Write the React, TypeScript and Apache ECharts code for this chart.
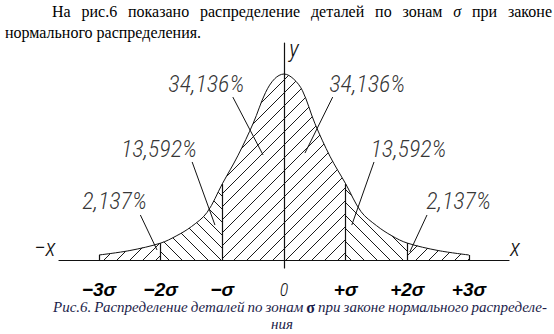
import React, { useEffect, useRef } from "react";
import * as echarts from "echarts";

// ---- data ----
// curve: position in sigma units, relative height (peak = 1)
const SIGMA_X = [-3, -2.5, -2, -1.75, -1.5, -1.25, -1, -0.75, -0.5, -0.3, -0.15, 0, 0.15, 0.3, 0.5, 0.75, 1, 1.25, 1.5, 1.75, 2, 2.5, 3];
const DENSITY = [0.027, 0.051, 0.091, 0.129, 0.18, 0.255, 0.41, 0.56, 0.735, 0.9, 0.975, 1.0, 0.975, 0.91, 0.735, 0.555, 0.41, 0.26, 0.185, 0.13, 0.091, 0.051, 0.027];

const ZONE_BOUNDS = [-3, -2, -1, 1, 2, 3];
const ZONE_HATCH = ["/", "\\", "/", "\\", "/"];
const TICK_VALUES = [-3, -2, -1, 0, 1, 2, 3];
const TICK_LABELS = ["−3σ", "−2σ", "−σ", "0", "+σ", "+2σ", "+3σ"];
const SHARE_LABELS = ["2,137%", "13,592%", "34,136%", "34,136%", "13,592%", "2,137%"];

const PARA_LINE1 = ["На", "рис.6", "показано", "распределение", "деталей", "по", "зонам", "σ", "при", "законе"];
const PARA_LINE2 = "нормального распределения.";
const CAPTION_LINE1 = ["Рис.6.", "Распределение", "деталей", "по", "зонам", "σ", "при", "законе", "нормального", "распределе-"];
const CAPTION_LINE2 = "ния";

// ---- layout (annotation placement, in data coordinates) ----
const ANNOT_LAYOUT = [
  { at: [-2.75, 0.317], from: [-2.33, 0.242], to: [-2.06, 0.054] },
  { at: [-2.03, 0.597], from: [-1.49, 0.527], to: [-1.12, 0.188] },
  { at: [-1.26, 0.946], from: [-0.83, 0.876], to: [-0.34, 0.565] },
  { at: [1.35, 0.946], from: [0.79, 0.876], to: [0.34, 0.575] },
  { at: [2.02, 0.597], from: [1.46, 0.527], to: [1.1, 0.188] },
  { at: [2.83, 0.317], from: [2.32, 0.242], to: [2.04, 0.043] },
];

const THIN_FONT = "'Roboto Condensed', Roboto, 'DejaVu Sans Condensed', sans-serif";
const SERIF = "'Liberation Serif', 'DejaVu Serif', serif";
const INK = "#111";

function hatch(dir: string) {
  const s = 13;
  const d =
    dir === "/"
      ? `M0 ${s} L${s} 0 M-2 2 L2 -2 M${s - 2} ${s + 2} L${s + 2} ${s - 2}`
      : `M0 0 L${s} ${s} M${s - 2} -2 L${s + 2} 2 M-2 ${s - 2} L2 ${s + 2}`;
  const svg = `<svg xmlns="http://www.w3.org/2000/svg" width="${s}" height="${s}"><path d="${d}" stroke="#1a1a1a" stroke-width="1" fill="none"/></svg>`;
  return {
    image: "data:image/svg+xml;charset=utf-8," + encodeURIComponent(svg),
    repeat: "repeat",
    imageWidth: s,
    imageHeight: s,
  };
}

let measureCtx: CanvasRenderingContext2D | null = null;
function measure(text: string, font: string) {
  if (!measureCtx) measureCtx = document.createElement("canvas").getContext("2d");
  measureCtx!.font = font;
  return measureCtx!.measureText(text).width;
}

function justify(words: string[], fonts: string[], left: number, right: number) {
  const widths = words.map((w, i) => measure(w, fonts[i]));
  const total = widths.reduce((a, b) => a + b, 0);
  const gap = (right - left - total) / (words.length - 1);
  const xs: number[] = [];
  let x = left;
  widths.forEach((w) => {
    xs.push(x);
    x += w + gap;
  });
  return xs;
}

function densityAt(v: number) {
  return DENSITY[SIGMA_X.indexOf(v)];
}

export default function App() {
  const ref = useRef<HTMLDivElement>(null);
  useEffect(() => {
    if (!ref.current) return;
    const chart = echarts.init(ref.current, null, { renderer: "svg" });

    const pts = SIGMA_X.map((x, i) => [x, DENSITY[i]]);

    const zoneSeries = ZONE_HATCH.map((h, i) => ({
      type: "line",
      name: "zone" + i,
      data: pts.filter((p) => p[0] >= ZONE_BOUNDS[i] && p[0] <= ZONE_BOUNDS[i + 1]),
      smooth: 0.35,
      showSymbol: false,
      symbol: "none",
      silent: true,
      lineStyle: { width: 0, opacity: 0 },
      areaStyle: { color: hatch(h) as any, opacity: 1 },
      z: 1,
    }));

    const paraSize = 16;
    const paraStyle = (w: string) => ({ italic: w === "σ", size: paraSize, bold: false });
    const capSize = 15;
    const capStyle = (w: string) => ({ italic: w !== "σ", size: w === "σ" ? 16 : capSize, bold: w === "σ" });
    const fontStr = (s: { italic: boolean; size: number; bold: boolean }) =>
      `${s.italic ? "italic " : ""}${s.bold ? "bold " : ""}${s.size}px ${SERIF}`;

    const paraXs = justify(PARA_LINE1, PARA_LINE1.map((w) => fontStr(paraStyle(w))), 52, 552);
    const capXs = justify(CAPTION_LINE1, CAPTION_LINE1.map((w) => fontStr(capStyle(w))), 53, 547);

    const graphics: any[] = [];
    PARA_LINE1.forEach((w, i) => {
      const s = paraStyle(w);
      graphics.push({
        type: "text",
        x: paraXs[i],
        y: 11,
        style: {
          text: w,
          fontFamily: SERIF,
          fontSize: s.size,
          fontStyle: s.italic ? "italic" : "normal",
          fontWeight: s.bold ? "bold" : "normal",
          fill: "#000",
          align: "left",
          verticalAlign: "middle",
        },
      });
    });
    graphics.push({
      type: "text",
      x: 5,
      y: 32,
      style: { text: PARA_LINE2, fontFamily: SERIF, fontSize: paraSize, fill: "#000", align: "left", verticalAlign: "middle" },
    });
    CAPTION_LINE1.forEach((w, i) => {
      const s = capStyle(w);
      graphics.push({
        type: "text",
        x: capXs[i],
        y: 307,
        style: {
          text: w,
          fontFamily: SERIF,
          fontSize: s.size,
          fontStyle: s.italic ? "italic" : "normal",
          fontWeight: s.bold ? "bold" : "normal",
          fill: "#1c1d4a",
          align: "left",
          verticalAlign: "middle",
        },
      });
    });
    graphics.push({
      type: "text",
      x: 282,
      y: 324,
      style: { text: CAPTION_LINE2, fontFamily: SERIF, fontSize: capSize, fontStyle: "italic", fill: "#1c1d4a", align: "center", verticalAlign: "middle" },
    });
    graphics.push({
      type: "text",
      x: 34,
      y: 248,
      style: { text: "−x", fontFamily: THIN_FONT, fontSize: 24, fontWeight: 300, fontStyle: "italic", fill: INK, align: "left", verticalAlign: "middle" },
    });

    chart.setOption({
      animation: false,
      grid: { left: 59, right: 45, top: 43, bottom: 66, containLabel: false },
      xAxis: {
        type: "value",
        min: -3.65,
        max: 3.65,
        name: "x",
        nameLocation: "end",
        nameGap: 1,
        nameTextStyle: { fontFamily: THIN_FONT, fontSize: 24, fontWeight: 300, fontStyle: "italic", color: INK, align: "left", verticalAlign: "bottom" },
        axisLine: { show: true, onZero: true, lineStyle: { color: INK, width: 1.2 } },
        axisTick: { show: false },
        splitLine: { show: false },
        axisLabel: {
          customValues: TICK_VALUES,
          margin: 12,
          fontFamily: "'Liberation Sans', Arial, sans-serif",
          fontWeight: "bold",
          fontStyle: "italic",
          fontSize: 19,
          lineHeight: 19,
          color: "#000",
          formatter: (v: number) => {
            const i = TICK_VALUES.indexOf(Math.round(v));
            const t = TICK_LABELS[i] ?? "";
            return t === "0" ? "{z|0}" : t;
          },
          rich: {
            z: { fontFamily: THIN_FONT, fontStyle: "italic", fontWeight: 300, fontSize: 18, lineHeight: 18, color: INK },
          },
        },
      },
      yAxis: {
        type: "value",
        min: -0.043,
        max: 1.1667,
        name: "y",
        nameLocation: "end",
        nameGap: -6,
        nameTextStyle: { fontFamily: THIN_FONT, fontSize: 24, fontWeight: 300, fontStyle: "italic", color: INK, align: "left", verticalAlign: "middle", padding: [0, 0, 0, 5] },
        axisLine: { show: true, onZero: true, lineStyle: { color: INK, width: 1.2 } },
        axisTick: { show: false },
        axisLabel: { show: false },
        splitLine: { show: false },
      },
      graphic: graphics,
      series: [
        ...zoneSeries,
        {
          type: "line",
          name: "curve",
          data: pts,
          smooth: 0.35,
          showSymbol: false,
          symbol: "none",
          silent: true,
          lineStyle: { color: INK, width: 1 },
          z: 3,
          markLine: {
            silent: true,
            symbol: ["none", "none"],
            label: { show: false },
            lineStyle: { color: INK, width: 1.2, type: "solid" },
            data: ZONE_BOUNDS.map((b) => [{ coord: [b, 0] }, { coord: [b, densityAt(b)] }]),
          },
        },
        {
          type: "scatter",
          name: "shares",
          symbolSize: 0,
          silent: true,
          z: 4,
          data: ANNOT_LAYOUT.map((a, i) => ({ value: a.at, name: SHARE_LABELS[i] })),
          label: {
            show: true,
            position: "inside",
            formatter: (p: any) => p.name,
            fontFamily: THIN_FONT,
            fontStyle: "italic",
            fontWeight: 300,
            fontSize: 24,
            color: "#000",
          },
          markLine: {
            silent: true,
            symbol: ["none", "none"],
            label: { show: false },
            lineStyle: { color: INK, width: 1, type: "solid" },
            data: ANNOT_LAYOUT.map((a) => [{ coord: a.from }, { coord: a.to }]),
          },
        },
      ],
    } as any);

    return () => chart.dispose();
  }, []);

  return (
    <div
      ref={ref}
      style={{ position: "absolute", left: 0, top: 0, width: 554, height: 334, background: "#fff" }}
    />
  );
}
